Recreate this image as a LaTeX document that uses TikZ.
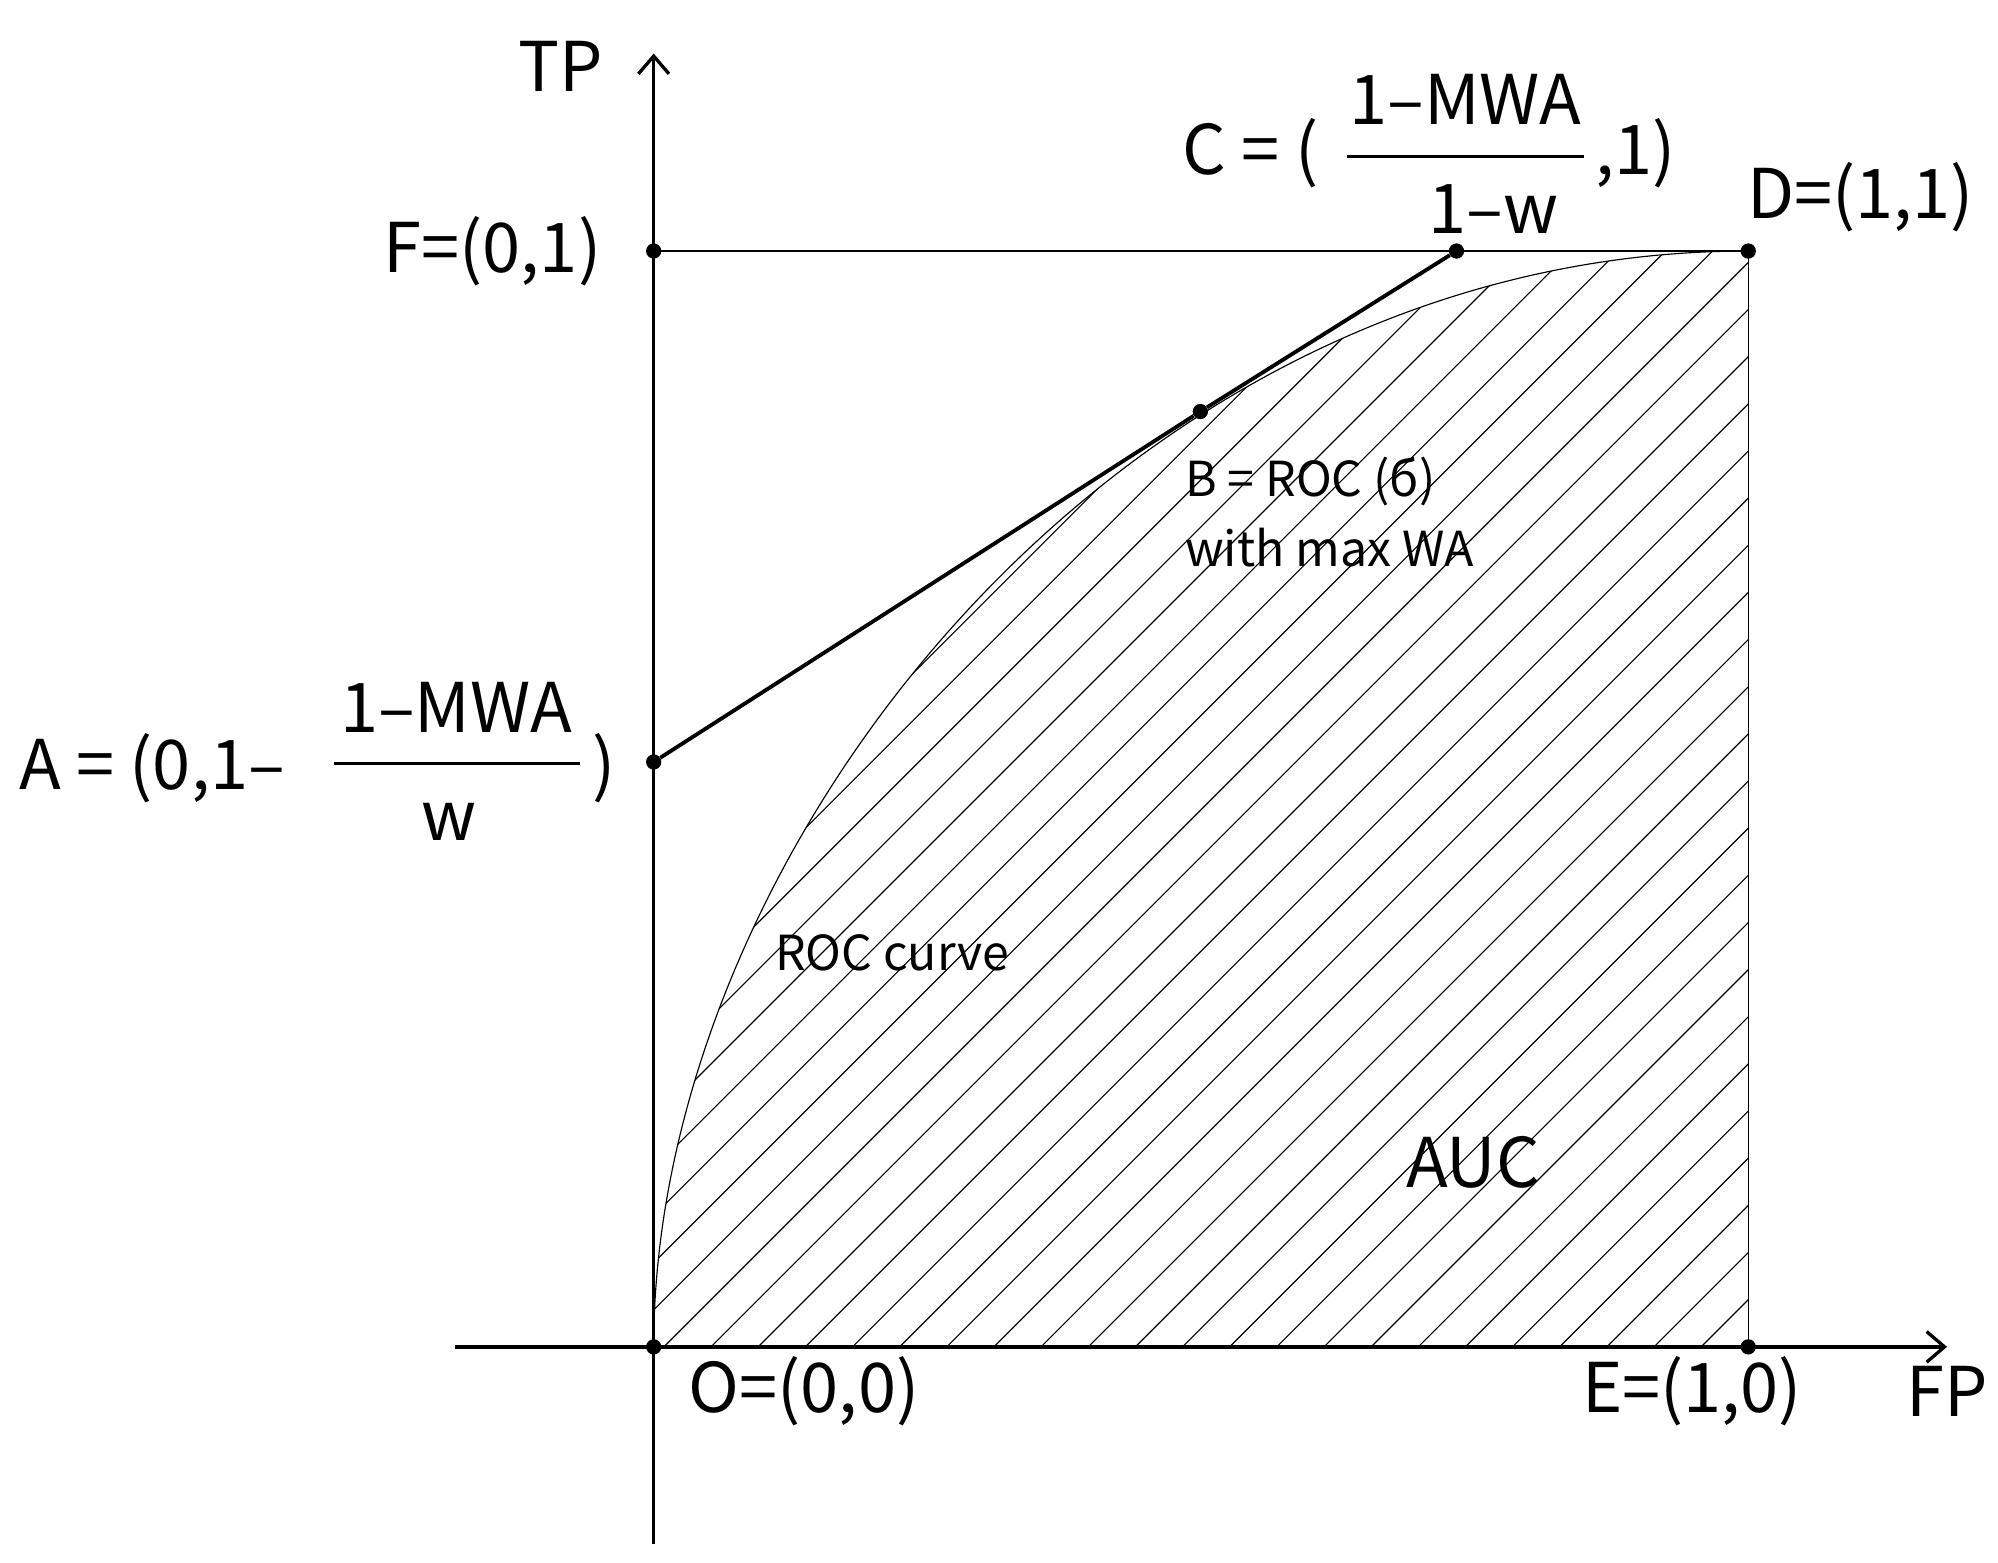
\documentclass[tikz,border=0pt]{standalone}
\usetikzlibrary{arrows.meta}
\usepackage{fontspec}
\setmainfont{Noto Sans CJK JP}
\begin{document}
\begin{tikzpicture}[x=1bp,y=1bp,
  big/.style={font=\fontsize{54}{60}\selectfont, inner sep=0pt},
  small/.style={font=\fontsize{38}{46}\selectfont, inner sep=0pt},
  dot/.style={circle,fill=black,inner sep=0pt,minimum size=12bp},
  axis/.style={line width=2.6bp,-{Straight Barb[length=14bp,width=24bp]}},
  thin/.style={line width=0.9bp}]
\useasboundingbox (0,0) rectangle (1568,1226);
% hatching
\begin{scope}
\clip (513,169) .. controls (513,560) and (880,1029) .. (1372,1029) -- (1372,169) -- cycle;
\foreach \k in {-1203,-1166,...,520} \draw[thin] (450,450+\k) -- (1450,1450+\k);
\end{scope}
% square, curve
\draw[thin] (513,1029) -- (1372,1029) -- (1372,169);
\draw[thin] (513,169) .. controls (513,560) and (880,1029) .. (1372,1029);
% axes
\coordinate (xs) at (357,169); \coordinate (xe) at (1528,169);
\coordinate (ys) at (513,14); \coordinate (ye) at (513,1184);
\draw[axis] (xs) -- (xe);
\draw[axis] (ys) -- (ye);
% points
\node[dot] (O) at (513,169) {};
\node[dot] (F) at (513,1029) {};
\node[dot] (D) at (1372,1029) {};
\node[dot] (E) at (1372,169) {};
\node[dot] (A) at (513,628) {};
\node[dot] (B) at (942,903) {};
\node[dot] (C) at (1143,1029) {};
\draw[line width=3bp] (A) -- (B) -- (C);
% labels
\node[big] (tp) at (440,1174) {TP};
\node[big,anchor=east] (fl) at (472,1029) {F=(0,1)};
\node[big] (dl) at (1460,1071) {D=(1,1)};
\node[big,anchor=east] (cl) at (1035,1106) {C = (};
\node[big] (cn) at (1150,1148) {1–MWA};
\draw[line width=2bp] (1057,1103) -- (1243,1103);
\node[big] (cd) at (1172,1062) {1–w};
\node[big,anchor=west] (cr) at (1252,1106) {,1)};
\node[big,anchor=west] (al) at (15,623) {A = (0,1–};
\node[big] (an) at (358,671) {1–MWA};
\node[big] (ad) at (352,581) {w};
\draw[line width=2bp] (262,627) -- (455,627);
\node[big] (ar) at (474,623) {)};
\node[small,anchor=west] (b1) at (930,848) {B = ROC (б)};
\node[small,anchor=west] (b2) at (930,796) {with max WA};
\node[small] (rc) at (700,478) {ROC curve};
\node[big] (auc) at (1156,314) {AUC};
\node[big] (ol) at (631,134) {O=(0,0)};
\node[big] (el) at (1328,134) {E=(1,0)};
\node[big] (fp) at (1528,134) {FP};
\end{tikzpicture}
\end{document}
